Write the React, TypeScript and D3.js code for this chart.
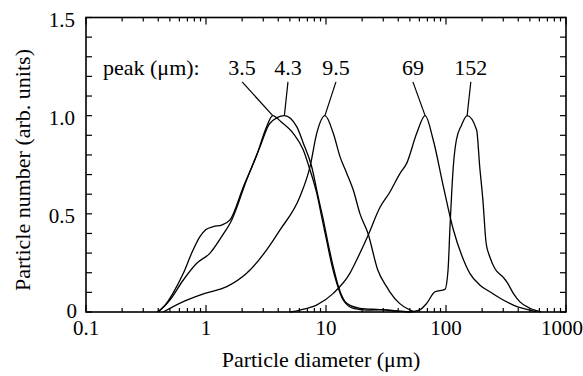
import { useMemo } from "react";
import * as d3 from "d3";

// diameters (um) and normalised counts
const peakA_d = [0.39, 0.45, 0.53, 0.647, 0.76, 0.89, 1.0, 1.15, 1.35, 1.585, 2.05, 2.65, 3.2, 3.6, 4.2, 5.33, 6.47, 7.36, 8.37, 9.2, 10.1, 11.1, 12.3, 13.9, 16.9, 22, 30, 40, 50];
const peakA_v = [0, 0.03, 0.095, 0.197, 0.3, 0.384, 0.42, 0.435, 0.443, 0.469, 0.638, 0.8, 0.944, 1.0, 0.97, 0.91, 0.825, 0.723, 0.605, 0.486, 0.367, 0.248, 0.146, 0.061, 0.019, 0.01, 0.012, 0.004, 0];

const peakB_d = [0.4, 0.5, 0.647, 0.837, 1.08, 1.35, 1.64, 2.18, 2.82, 3.4, 4.5, 5.7, 6.47, 7.6, 8.6, 9.5, 10.4, 11.5, 12.7, 14.9, 19.2, 28, 40, 50];
const peakB_v = [0, 0.061, 0.163, 0.248, 0.3, 0.384, 0.469, 0.672, 0.842, 0.96, 1.0, 0.944, 0.86, 0.74, 0.587, 0.469, 0.35, 0.23, 0.129, 0.044, 0.019, 0.012, 0.004, 0];

const peakC_d = [0.44, 0.647, 0.98, 1.49, 2.18, 3.2, 4.14, 6.06, 7.36, 8.37, 9.8, 11.5, 13.1, 14.9, 16.9, 19.2, 22.4, 27, 32, 34, 41, 50, 55];
const peakC_v = [0, 0.053, 0.095, 0.129, 0.197, 0.316, 0.418, 0.587, 0.74, 0.91, 1.0, 0.91, 0.79, 0.706, 0.62, 0.5, 0.4, 0.214, 0.129, 0.103, 0.044, 0.01, 0];

const peakD_d = [5, 6.1, 8.4, 11.5, 15.8, 18, 22.4, 28, 34, 41.4, 47, 57, 67, 78, 95, 115, 139, 158, 191, 232, 300, 390, 500, 570];
const peakD_v = [0, 0.01, 0.036, 0.095, 0.197, 0.265, 0.39, 0.53, 0.61, 0.706, 0.757, 0.91, 1.0, 0.88, 0.64, 0.42, 0.27, 0.197, 0.138, 0.103, 0.061, 0.027, 0.01, 0];

const peakE_d = [50, 60, 69, 81, 98, 104, 108, 115, 122, 135, 150, 180, 191, 203, 216, 232, 256, 300, 321, 364, 411, 500, 566, 620];
const peakE_v = [0, 0.01, 0.044, 0.103, 0.115, 0.214, 0.435, 0.74, 0.876, 0.953, 1.0, 0.927, 0.74, 0.57, 0.35, 0.28, 0.22, 0.176, 0.154, 0.095, 0.053, 0.019, 0.007, 0];

const peakLabels = ["3.5", "4.3", "9.5", "69", "152"];
const peakLabelPos = [2.0, 4.82, 12.1, 53, 161];

const xTickLabels = ["0.1", "1", "10", "100", "1000"];
const yTickLabels = ["0", "0.5", "1.0", "1.5"];

const W = 583;
const H = 376;
const margin = { top: 17.5, right: 17, bottom: 64, left: 86 };
const FONT = '"Liberation Serif"';

export default function App() {
  const innerW = W - margin.left - margin.right;
  const innerH = H - margin.top - margin.bottom;

  const x = d3.scaleLog().domain([0.1, 1000]).range([0, innerW]);
  const y = d3.scaleLinear().domain([0, 1.5]).range([innerH, 0]);

  const series = useMemo(
    () => [
      [peakA_d, peakA_v],
      [peakB_d, peakB_v],
      [peakC_d, peakC_v],
      [peakD_d, peakD_v],
      [peakE_d, peakE_v],
    ].map(([d, v]) => d.map((dd, i) => ({ d: dd, v: v[i] }))),
    []
  );

  const line = d3
    .line<{ d: number; v: number }>()
    .x((p) => x(p.d))
    .y((p) => y(p.v))
    .curve(d3.curveMonotoneX);

  // log ticks: decades are major, 2..9 minor
  const xMinor: number[] = [];
  for (let e = -1; e < 3; e++) {
    for (let k = 2; k <= 9; k++) xMinor.push(k * Math.pow(10, e));
  }
  const xMajor = xTickLabels.map(Number);
  const yTicks = d3.range(0, 16).map((i) => i / 10);

  const peaks = series.map((s) => s.reduce((a, b) => (b.v > a.v ? b : a)));
  const tick = { fontFamily: FONT, fontSize: 21 };
  const note = { fontFamily: FONT, fontSize: 22 };
  const title = { fontFamily: FONT, fontSize: 22 };

  return (
    <div style={{ position: "absolute", left: 0, top: 0 }}>
      <svg width={W} height={H} style={{ display: "block" }}>
        <rect width={W} height={H} fill="white" />
        <g transform={`translate(${margin.left}, ${margin.top})`}>
          {/* curves */}
          {series.map((s, i) => (
            <path key={i} d={line(s) || ""} fill="none" stroke="#000" strokeWidth={1.3} />
          ))}

          {/* leader lines + peak labels */}
          {peakLabels.map((lab, i) => (
            <g key={lab}>
              <line
                x1={x(peakLabelPos[i])}
                y1={y(1.172)}
                x2={x(peaks[i].d)}
                y2={y(peaks[i].v)}
                stroke="#000"
                strokeWidth={1.2}
              />
              <text x={x(peakLabelPos[i])} y={y(1.207)} textAnchor="middle" style={note}>
                {lab}
              </text>
            </g>
          ))}
          <text x={103 - margin.left} y={y(1.207)} style={note}>
            peak (μm):
          </text>

          {/* x ticks, bottom and top */}
          {xMinor.map((t) => (
            <g key={`xm${t}`}>
              <line x1={x(t)} x2={x(t)} y1={innerH} y2={innerH - 4} stroke="#000" strokeWidth={1.2} />
              <line x1={x(t)} x2={x(t)} y1={0} y2={4} stroke="#000" strokeWidth={1.2} />
            </g>
          ))}
          {xMajor.map((t, i) => (
            <g key={`xM${t}`}>
              <line x1={x(t)} x2={x(t)} y1={innerH} y2={innerH - 7} stroke="#000" strokeWidth={1.2} />
              <line x1={x(t)} x2={x(t)} y1={0} y2={7} stroke="#000" strokeWidth={1.2} />
              <text
                x={x(t) + (i === xMajor.length - 1 ? -4 : 0)}
                y={innerH + 23}
                textAnchor="middle"
                style={tick}
              >
                {xTickLabels[i]}
              </text>
            </g>
          ))}

          {/* y ticks, left and right */}
          {yTicks.map((t) => (
            <g key={`y${t}`}>
              <line x1={0} x2={6} y1={y(t)} y2={y(t)} stroke="#000" strokeWidth={1.2} />
              <line x1={innerW} x2={innerW - 6} y1={y(t)} y2={y(t)} stroke="#000" strokeWidth={1.2} />
            </g>
          ))}
          {yTickLabels.map((lab, i) => (
            <text
              key={lab}
              x={i === 0 ? -9 : -11}
              y={y(Number(lab)) + (i === 0 ? 6 : 9)}
              textAnchor="end"
              style={tick}
            >
              {lab}
            </text>
          ))}

          {/* frame */}
          <rect x={0} y={0} width={innerW} height={innerH} fill="none" stroke="#000" strokeWidth={1.6} />

          {/* axis titles */}
          <text x={innerW / 2 - 5} y={innerH + 55} textAnchor="middle" style={title}>
            Particle diameter (μm)
          </text>
          <text
            transform={`translate(${30 - margin.left}, ${170 - margin.top}) rotate(-90)`}
            textAnchor="middle"
            style={title}
          >
            Particle number (arb. units)
          </text>
        </g>
      </svg>
    </div>
  );
}
